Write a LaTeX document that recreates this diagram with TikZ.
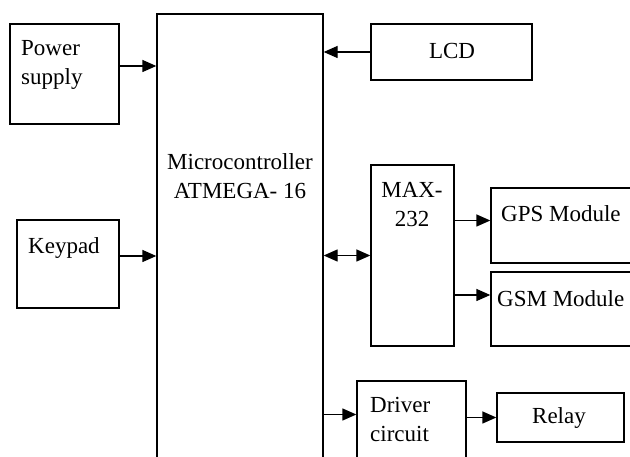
\documentclass[tikz,border=0pt]{standalone}
\usepackage{fontspec}
\setmainfont{Liberation Serif}
\usetikzlibrary{arrows.meta}

\begin{document}
\begin{tikzpicture}[x=1pt, y=-1pt,
    block/.style={draw, line width=1.3pt, inner sep=0pt},
    txt/.style={inner sep=0pt, font=\fontsize{23}{29}\selectfont, align=left},
    pfeil/.style={line width=1.3pt, -{Triangle[length=14pt,width=12pt]}},
    ]
    \clip (0,0) rectangle (630,457);
    % Bloecke links:
    \node[block, minimum width=109pt, minimum height=100pt] (psu) at (64.5,74) {};
    \node[block, minimum width=102pt, minimum height=88pt] (kpd) at (68,264) {};
    % Mikrocontroller:
    \node[block, minimum width=166pt, minimum height=456pt] (mcu) at (240,242) {};
    % Bloecke rechts:
    \node[block, minimum width=161pt, minimum height=56pt] (lcd) at (451.5,52) {};
    \node[block, minimum width=83pt, minimum height=181pt] (max) at (412.5,255.5) {};
    \node[block, minimum width=149pt, minimum height=75pt] (gps) at (565.5,225.5) {};
    \node[block, minimum width=149pt, minimum height=74pt] (gsm) at (565.5,309) {};
    \node[block, minimum width=109pt, minimum height=89pt] (drv) at (411.5,425.5) {};
    \node[block, minimum width=127pt, minimum height=49pt] (rly) at (560.5,417.5) {};

    % Beschriftungen:
    \node[txt, anchor=base west] (psutxt) at (21,85) {Power\\supply};
    \node[txt, anchor=base west] (kpdtxt) at (28,254) {Keypad};
    \node[txt, anchor=base, align=center] (mcutxt) at (240,199) {Microcontroller\\ATMEGA- 16};
    \node[txt, anchor=base] (lcdtxt) at (452,59) {LCD};
    \node[txt, anchor=base, align=center] (maxtxt) at (412,227) {MAX-\\232};
    \node[txt, anchor=base west] (gpstxt) at (501,222) {GPS Module};
    \node[txt, anchor=base west] (gsmtxt) at (497,307) {GSM Module};
    \node[txt, anchor=base west] (drvtxt) at (370,442) {Driver\\circuit};
    \node[txt, anchor=base] (rlytxt) at (559,424) {Relay};

    % Pfeile:
    \draw[pfeil] ([yshift=8pt]psu.east) -- ([yshift=8pt]psu.east -| mcu.west);
    \draw[pfeil] ([yshift=8pt]kpd.east) -- ([yshift=8pt]kpd.east -| mcu.west);
    \draw[pfeil] (lcd.west) -- (lcd.west -| mcu.east);
    \draw[pfeil, {Triangle[length=14pt,width=12pt]}-{Triangle[length=14pt,width=12pt]}]
        (max.west -| mcu.east) -- (max.west);
    \draw[pfeil] ([yshift=5pt]gps.west -| max.east) -- ([yshift=5pt]gps.west);
    \draw[pfeil] ([yshift=14pt]gsm.west -| max.east) -- ([yshift=14pt]gsm.west);
    \draw[pfeil] ([yshift=11pt]drv.west -| mcu.east) -- ([yshift=11pt]drv.west);
    \draw[pfeil] (rly.west -| drv.east) -- (rly.west);
\end{tikzpicture}
\end{document}
